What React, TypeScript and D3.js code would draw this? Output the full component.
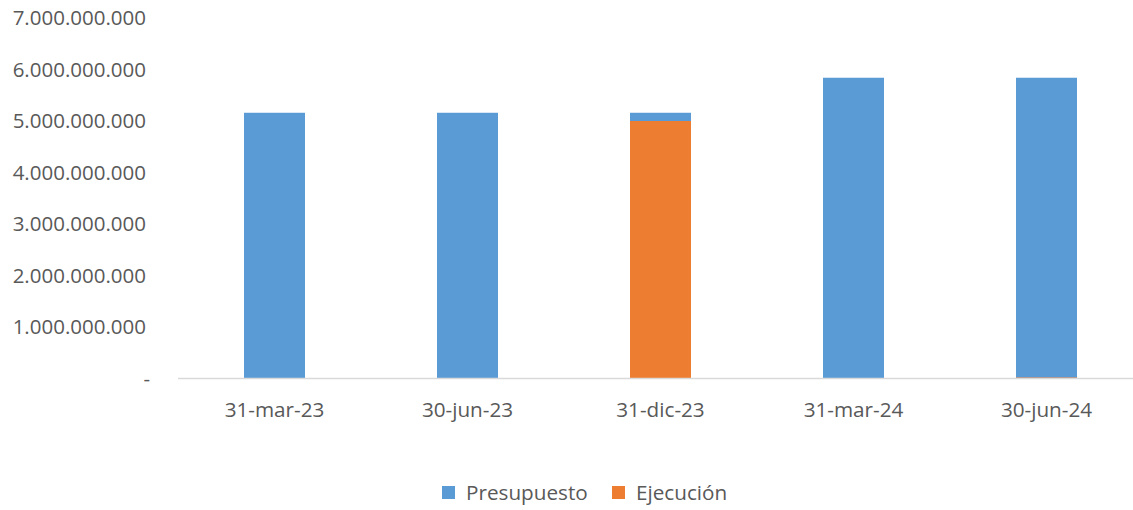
import React from "react";
import * as d3 from "d3";

const categories = ["31-mar-23", "30-jun-23", "31-dic-23", "31-mar-24", "30-jun-24"];
const presupuesto = [5160000000, 5160000000, 5160000000, 5840000000, 5840000000];
const ejecucion = [0, 0, 5000000000, 0, 20000000];
const yTicks = [0, 1000000000, 2000000000, 3000000000, 4000000000, 5000000000, 6000000000, 7000000000];
const seriesNames = ["Presupuesto", "Ejecución"];
const seriesColors = ["#5B9BD5", "#ED7D31"];

const W = 1133;
const H = 510;
const FONT = "'Open Sans', sans-serif";

function fmt(v: number): string {
  if (v === 0) return "-";
  return d3.format(",")(v).replace(/,/g, ".");
}

export default function App() {
  const x = d3.scaleBand<string>().domain(categories).range([178, 1143]).paddingInner(0.684).paddingOuter(0.342);
  const y = d3.scaleLinear().domain([0, 7000000000]).range([378.5, 18]);
  const bw = x.bandwidth();

  return (
    <svg width={W} height={H} style={{ position: "absolute", left: 0, top: 0 }}>
      <rect x={0} y={0} width={W} height={H} fill="#fff" />
      {yTicks.map((t) => (
        <text
          key={t}
          x={t === 0 ? 150 : 146}
          y={y(t)}
          dy="0.36em"
          textAnchor="end"
          fontFamily={FONT}
          fontSize={20.5}
          fill="#595959"
        >
          {fmt(t)}
        </text>
      ))}
      {categories.map((c, i) => (
        <g key={c}>
          <rect x={x(c)} y={y(presupuesto[i])} width={bw} height={y(0) - y(presupuesto[i])} fill={seriesColors[0]} />
          {ejecucion[i] > 0 && (
            <rect x={x(c)} y={y(ejecucion[i])} width={bw} height={y(0) - y(ejecucion[i])} fill={seriesColors[1]} />
          )}
          <text
            x={(x(c) as number) + bw / 2}
            y={417}
            textAnchor="middle"
            fontFamily={FONT}
            fontSize={20.7}
            fill="#595959"
          >
            {c}
          </text>
        </g>
      ))}
      <line x1={178} x2={W} y1={y(0)} y2={y(0)} stroke="#d9d9d9" strokeWidth={1.5} />
      {seriesNames.map((s, i) => {
        const lx = i === 0 ? 442 : 612;
        return (
          <g key={s}>
            <rect x={lx} y={486} width={13} height={13} fill={seriesColors[i]} />
            <text x={lx + 24} y={500} fontFamily={FONT} fontSize={20.7} fill="#595959">
              {s}
            </text>
          </g>
        );
      })}
    </svg>
  );
}
